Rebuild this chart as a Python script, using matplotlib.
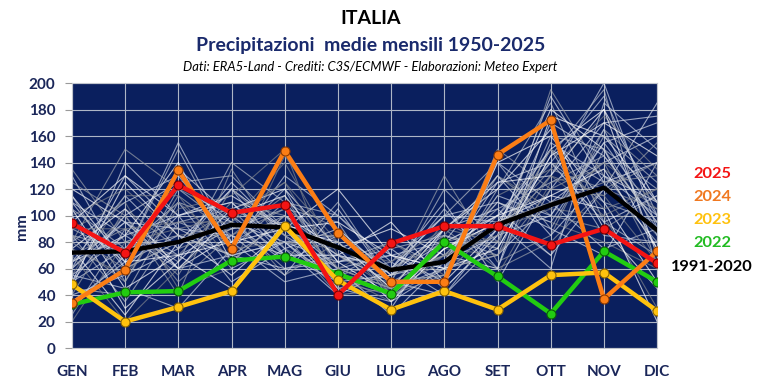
import numpy as np
import matplotlib
matplotlib.use('Agg')
from matplotlib import pyplot as plt

plt.rcParams['font.family'] = ['Lato', 'DejaVu Sans']

months = ['GEN', 'FEB', 'MAR', 'APR', 'MAG', 'GIU', 'LUG', 'AGO', 'SET', 'OTT', 'NOV', 'DIC']

# highlighted years (mm)
y2025 = [94, 72, 123, 102, 108, 40, 79, 92, 92, 78, 90, 64]
y2024 = [34, 59, 134, 75, 149, 87, 50, 50, 146, 172, 37, 73]
y2023 = [48, 20, 31, 43, 92, 51, 29, 43, 29, 55, 57, 28]
y2022 = [33, 42, 43, 66, 69, 56, 41, 80, 54, 26, 73, 50]
norm_1991_2020 = [72, 73, 80, 93, 91, 76, 59, 65, 93, 108, 121, 89]

# other years 1950-2021 (estimated from the grey bundle)
others = [
    [120, 95, 60, 85, 70, 55, 40, 75, 95, 150, 180, 110],
    [60, 130, 90, 70, 80, 45, 35, 60, 70, 110, 140, 160],
    [45, 40, 110, 95, 60, 70, 50, 55, 120, 185, 95, 70],
    [135, 80, 70, 110, 100, 60, 45, 90, 60, 80, 120, 140],
    [30, 70, 155, 80, 120, 50, 30, 45, 85, 130, 200, 90],
    [90, 110, 45, 60, 145, 90, 55, 70, 110, 95, 80, 60],
    [75, 25, 80, 120, 90, 120, 70, 50, 140, 160, 110, 50],
    [110, 60, 100, 50, 75, 40, 60, 110, 50, 120, 170, 175],
    [25, 90, 65, 140, 110, 65, 80, 60, 100, 70, 150, 120],
    [80, 150, 120, 100, 55, 80, 45, 95, 75, 195, 130, 85],
    [55, 45, 30, 75, 130, 100, 65, 40, 90, 140, 190, 100],
    [100, 120, 85, 90, 95, 55, 35, 85, 130, 105, 100, 30],
    [65, 85, 140, 65, 100, 75, 90, 70, 60, 175, 160, 110],
    [40, 55, 75, 125, 85, 60, 25, 65, 110, 90, 70, 140],
    [85, 35, 95, 105, 65, 110, 50, 120, 80, 150, 125, 80],
    [125, 100, 50, 85, 115, 50, 40, 55, 150, 120, 140, 65],
    [50, 75, 110, 60, 80, 85, 60, 100, 95, 60, 185, 150],
    [70, 20, 60, 95, 140, 70, 45, 75, 70, 130, 100, 120],
    [95, 130, 100, 115, 90, 45, 55, 90, 120, 165, 90, 45],
    [35, 65, 85, 70, 60, 65, 75, 45, 85, 100, 155, 170],
    [115, 50, 120, 90, 105, 95, 35, 80, 100, 140, 110, 95],
    [60, 100, 40, 135, 75, 55, 50, 130, 65, 85, 165, 130],
    [80, 110, 130, 80, 50, 60, 70, 60, 140, 110, 75, 90],
    [20, 80, 90, 100, 125, 80, 40, 70, 55, 125, 135, 105],
    [105, 45, 70, 45, 95, 70, 95, 50, 90, 180, 150, 75],
    [45, 140, 100, 110, 70, 50, 30, 90, 105, 70, 120, 185],
    [90, 70, 150, 75, 110, 100, 60, 85, 75, 145, 195, 60],
    [70, 90, 55, 120, 85, 40, 45, 65, 130, 100, 90, 115],
    [130, 60, 80, 95, 65, 85, 55, 105, 60, 155, 130, 100],
    [55, 115, 115, 65, 100, 60, 80, 55, 115, 135, 175, 135],
    [100, 30, 65, 105, 120, 75, 35, 75, 95, 115, 105, 20],
    [65, 95, 90, 85, 55, 105, 50, 40, 80, 170, 145, 95],
    [85, 75, 125, 130, 90, 55, 65, 100, 140, 90, 160, 125],
    [40, 105, 75, 90, 110, 90, 40, 60, 70, 120, 115, 155],
    [110, 85, 60, 70, 80, 65, 70, 80, 100, 150, 85, 80],
    [75, 55, 105, 115, 150, 45, 55, 70, 90, 105, 140, 110],
    [50, 125, 85, 55, 90, 80, 45, 90, 125, 130, 180, 70],
    [95, 65, 135, 100, 70, 70, 60, 65, 85, 190, 125, 140],
    [70, 80, 95, 80, 100, 70, 50, 70, 105, 125, 145, 95],
    [85, 60, 80, 105, 85, 85, 60, 80, 90, 135, 120, 105],
    [60, 95, 70, 90, 95, 60, 45, 60, 115, 100, 165, 85],
    [95, 70, 110, 75, 80, 75, 65, 90, 80, 150, 105, 120],
    [75, 105, 60, 100, 115, 65, 40, 75, 100, 115, 135, 75],
    [55, 85, 100, 110, 75, 90, 55, 65, 125, 140, 95, 115],
    [105, 75, 85, 70, 95, 55, 75, 85, 70, 160, 150, 90],
    [80, 50, 115, 85, 105, 80, 50, 55, 95, 110, 125, 130],
    [65, 115, 75, 120, 70, 70, 60, 100, 110, 95, 155, 100],
    [90, 90, 95, 95, 125, 60, 45, 70, 85, 130, 115, 65],
    [115, 65, 70, 80, 90, 95, 70, 60, 75, 145, 170, 145],
    [50, 100, 125, 95, 80, 50, 55, 80, 130, 85, 130, 110],
]
grey_shades = ['#ffffff', '#d8dde8', '#b8bec8', '#9a9fa8', '#c8d0e0', '#7e838c']

navy = '#1a2659'
fig = plt.figure(figsize=(7.65, 3.88), dpi=100)
ax = fig.add_axes([0.094, 0.103, 0.765, 0.683])
ax.set_facecolor('#0a1f5e')

x = np.arange(len(months))
for i, s in enumerate(others):
    ax.plot(x, s, color=grey_shades[i % len(grey_shades)], lw=0.8, alpha=0.7, zorder=2)

ax.plot(x, norm_1991_2020, color='black', lw=3.2, zorder=4)
ax.plot(x, y2022, color='#22cc11', lw=3.2, marker='o', ms=6.5, mec='#0b5e05', mew=0.8, zorder=5)
ax.plot(x, y2023, color='#ffc20e', lw=3.2, marker='o', ms=6.5, mec='#8a6400', mew=0.8, zorder=6)
ax.plot(x, y2024, color='#fb7d15', lw=3.2, marker='o', ms=6.5, mec='#8a3800', mew=0.8, zorder=7)
ax.plot(x, y2025, color='#f41414', lw=3.2, marker='o', ms=6.5, mec='#7a0000', mew=0.8, zorder=8)

ax.set_xlim(0, len(months) - 1)
ax.set_ylim(0, 200)
ax.set_xticks(x)
ax.set_xticklabels(months)
ax.set_yticks(np.arange(0, 201, 20))
ax.grid(True, color='#aeb6c6', lw=0.8, zorder=1)
ax.set_axisbelow(True)
for sp in ax.spines.values():
    sp.set_color('#c0c4cc')
    sp.set_linewidth(0.8)
ax.tick_params(axis='x', length=0, pad=12, labelsize=11, labelcolor=navy)
ax.tick_params(axis='y', length=5, color='#9a9a9a', pad=7, labelsize=11, labelcolor=navy)
for lab in ax.get_xticklabels() + ax.get_yticklabels():
    lab.set_fontweight('bold')

fig.text(0.029, 0.415, 'mm', rotation=90, ha='center', va='center', fontsize=11.5,
         fontweight='bold', color=navy)

fig.text(0.484, 0.953, 'ITALIA', ha='center', va='center', fontsize=14, fontweight='bold', color='black')
fig.text(0.484, 0.884, 'Precipitazioni  medie mensili 1950-2025', ha='center', va='center',
         fontsize=14, fontweight='bold', color='#1a2a6c')
fig.text(0.484, 0.827, 'Dati: ERA5-Land - Crediti: C3S/ECMWF - Elaborazioni: Meteo Expert',
         ha='center', va='center', fontsize=9.4, style='italic', color='black')

labels = ['2025', '2024', '2023', '2022', '1991-2020']
label_colors = ['#f41414', '#f07820', '#ffc20e', '#22bb22', 'black']
label_y = [0.552, 0.492, 0.433, 0.374, 0.312]
for t, c, yy in zip(labels, label_colors, label_y):
    fig.text(0.931, yy, t, ha='center', va='center', fontsize=11.8, fontweight='bold', color=c)

fig.savefig('out.png', dpi=100)
